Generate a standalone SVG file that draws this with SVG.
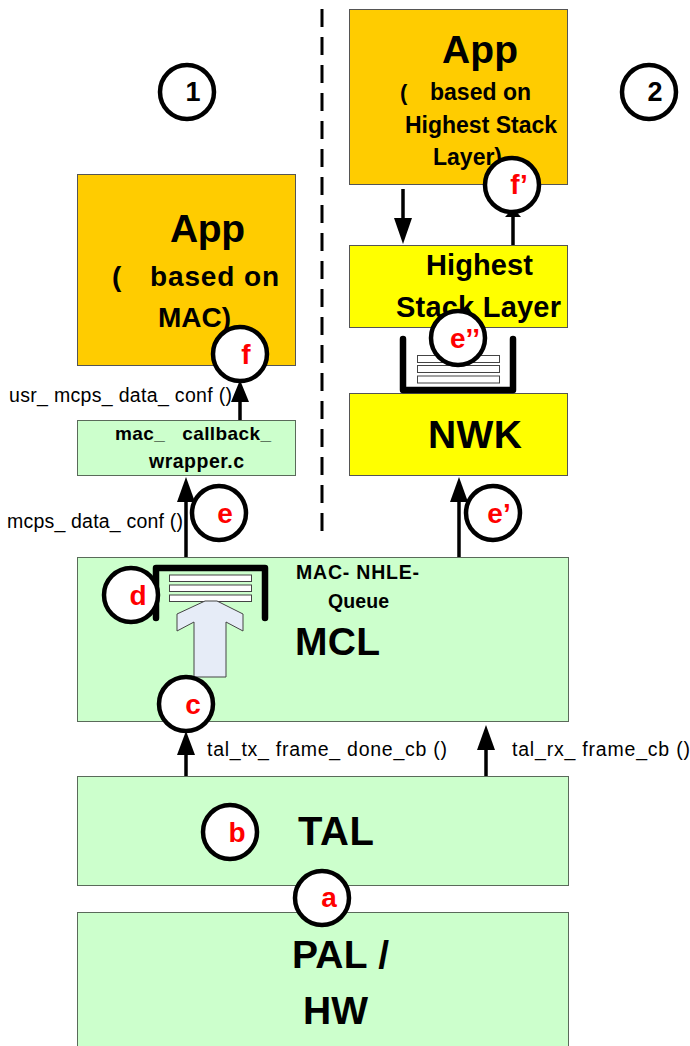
<svg xmlns="http://www.w3.org/2000/svg" width="690" height="1046" viewBox="0 0 690 1046">
<style>
text{font-family:"Liberation Sans",Arial,sans-serif;font-weight:700;fill:#000;white-space:pre}
.g{fill:#ccffcc;stroke:#5a6a5a;stroke-width:1}
.o{fill:#ffcc00;stroke:#555;stroke-width:1}
.y{fill:#ffff00;stroke:#555;stroke-width:1}
.c{fill:#fff;stroke:#000;stroke-width:4.5}
.l{fill:#f00;font-size:28px;text-anchor:middle}
.t{font-weight:400;font-size:19.500px}
.a{stroke:#000;stroke-width:3.5;fill:none}
.h{fill:#000;stroke:none}
.q{fill:none;stroke:#000;stroke-width:6.500;stroke-linecap:round;stroke-linejoin:round}
.s{fill:#fff;stroke:#444;stroke-width:1}
</style>
<g id="connectors">
<path d="M322 9V540" fill="none" stroke="#000" stroke-width="3" stroke-dasharray="18 10"/>
<path class="a" d="M186 557V495"/><path class="h" d="M186 477l-9 25h18z"/>
<path class="a" d="M240 420V398"/><path class="h" d="M240 380l-9 22h18z"/>
<path class="a" d="M459 557V495"/><path class="h" d="M459 477l-9 25h18z"/>
<path class="a" d="M186 776V750"/><path class="h" d="M186 731l-9 24h18z"/>
<path class="a" d="M486 776V750"/><path class="h" d="M486 725l-9 25h18z"/>
<path class="a" d="M403 189V225"/><path class="h" d="M403 244l-9-26h18z"/>
<path class="a" d="M513 245V212"/><path class="h" d="M513 208l-8 9h16z"/>
</g>
<g id="app2"><rect class="o" x="349.500" y="9.500" width="218" height="175"/>
<text x="442" y="63" font-size="39" textLength="76">App</text>
<text x="400" y="100" font-size="22">(</text><text x="430" y="100" font-size="23" textLength="101">based on</text>
<text x="405" y="133" font-size="23" textLength="152">Highest Stack</text><text x="433" y="165" font-size="23">Layer)</text></g>
<g id="app1"><rect class="o" x="77.500" y="174.500" width="218" height="191"/>
<text x="170" y="242" font-size="39" textLength="75">App</text>
<text x="112" y="286" font-size="28">(</text><text x="150" y="286" font-size="28" textLength="129">based on</text>
<text x="158" y="327" font-size="28">MAC)</text></g>
<g id="highest"><rect class="y" x="349.500" y="245.500" width="218" height="82"/>
<text x="426" y="275" font-size="29" textLength="107">Highest</text>
<text x="396" y="317" font-size="29" textLength="165">Stack Layer</text></g>
<g id="nwk"><rect class="y" x="349.500" y="393.500" width="218" height="82"/>
<text x="428" y="448" font-size="39" textLength="94">NWK</text></g>
<g id="queue2"><rect class="s" x="417.500" y="355.500" width="82" height="7"/><rect class="s" x="417.500" y="365.500" width="82" height="7"/><rect class="s" x="417.500" y="376" width="82" height="7"/>
<path class="q" d="M403 339V390H513V339"/></g>
<g id="wrapper"><rect class="g" x="77.500" y="420.500" width="218" height="55"/>
<text x="115" y="440" font-size="19" textLength="156">mac_   callback_</text>
<text x="149" y="468" font-size="19.500" textLength="95">wrapper.c</text></g>
<g id="mcl"><rect class="g" x="77.500" y="557.500" width="491" height="164"/>
<text x="296" y="579" font-size="19.500" textLength="123">MAC- NHLE-</text><text x="328" y="608" font-size="19.500" textLength="61">Queue</text>
<text x="295" y="655" font-size="39" textLength="85">MCL</text>
<rect class="s" x="169.500" y="575" width="82" height="6.500"/><rect class="s" x="169.500" y="585" width="82" height="6.500"/><rect class="s" x="169.500" y="595" width="82" height="6.500"/>
<path class="q" d="M156 618V568H265V618"/>
<path d="M205 601H217L243 614V631L226 622V677H194V622L177 631V614Z" fill="#e6ecf7" stroke="#444" stroke-width="1"/></g>
<g id="tal"><rect class="g" x="77.500" y="776.500" width="491" height="109"/>
<text x="298" y="845" font-size="40" textLength="76">TAL</text></g>
<g id="pal"><rect class="g" x="77.500" y="912.500" width="491" height="140"/>
<text x="292" y="968" font-size="39" textLength="97">PAL /</text>
<text x="303" y="1024" font-size="39" textLength="65">HW</text></g>
<g id="labels">
<text class="t" x="9" y="402" textLength="223">usr_ mcps_ data_ conf ()</text>
<text class="t" x="7" y="528" textLength="176">mcps_ data_ conf ()</text>
<text class="t" x="207" y="756" textLength="240">tal_tx_ frame_ done_cb ()</text>
<text class="t" x="512" y="756" textLength="178">tal_rx_ frame_cb ()</text>
</g>
<g id="n1"><circle class="c" cx="187" cy="92" r="27"/><text x="193" y="101" font-size="27" text-anchor="middle">1</text></g>
<g id="n2"><circle class="c" cx="649" cy="92" r="27"/><text x="655" y="101" font-size="27" text-anchor="middle">2</text></g>
<g id="cf"><circle class="c" cx="240" cy="354" r="27"/><text class="l" x="246" y="364">f</text></g>
<g id="cfp"><circle class="c" cx="512" cy="185" r="27"/><text class="l" x="519" y="194">f’</text></g>
<g id="ce"><circle class="c" cx="219" cy="513" r="27"/><text class="l" x="225" y="523">e</text></g>
<g id="cep"><circle class="c" cx="493" cy="513" r="27"/><text class="l" x="499" y="523">e’</text></g>
<g id="cepp"><circle class="c" cx="458" cy="338" r="27"/><text class="l" x="465" y="348">e’’</text></g>
<g id="cd"><circle class="c" cx="131" cy="595" r="27"/><text class="l" x="138" y="605">d</text></g>
<g id="cc"><circle class="c" cx="186" cy="704" r="27"/><text class="l" x="193" y="714">c</text></g>
<g id="cb"><circle class="c" cx="230" cy="832" r="27"/><text class="l" x="237" y="842">b</text></g>
<g id="ca"><circle class="c" cx="322" cy="898" r="27"/><text class="l" x="329" y="907">a</text></g>
</svg>
